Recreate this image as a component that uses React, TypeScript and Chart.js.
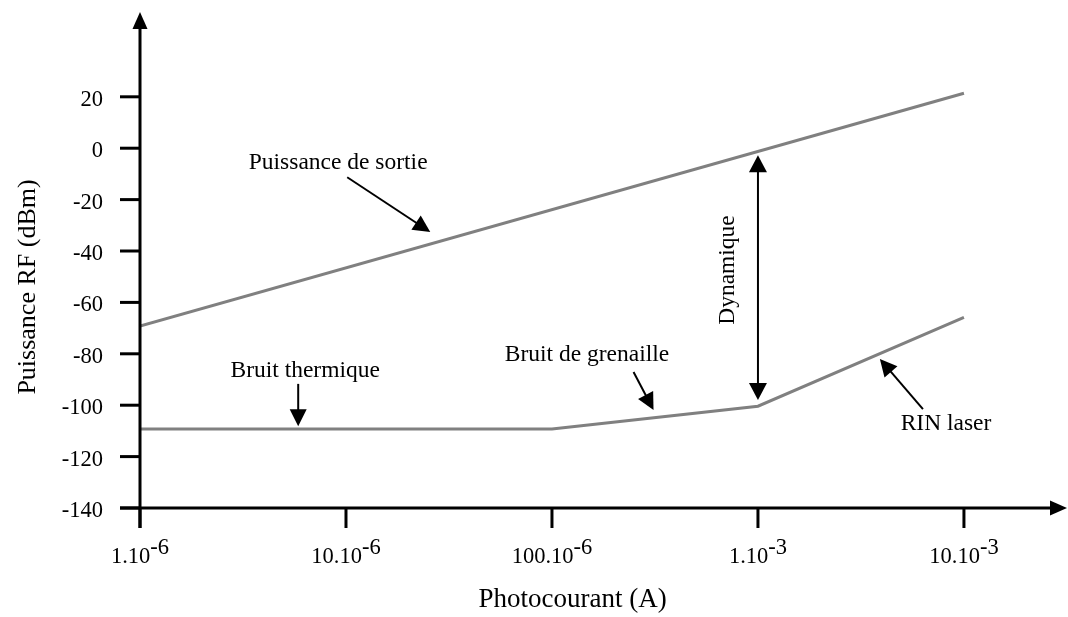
import React, { useEffect, useRef } from "react";
import { Chart, registerables } from "chart.js";

Chart.register(...registerables);

// ---- Data ----
const outputCurrents = [1e-6, 1e-2];
const outputPower = [-69.2, 21.4];
const noiseCurrents = [1e-6, 1e-4, 1e-3, 1e-2];
const noisePower = [-109.3, -109.3, -100.4, -65.8];

const xTickValues = [1e-6, 1e-5, 1e-4, 1e-3, 1e-2];
const xTickMantissas = ["1.10", "10.10", "100.10", "1.10", "10.10"];
const xTickExponents = ["-6", "-6", "-6", "-3", "-3"];
const yTickValues = [20, 0, -20, -40, -60, -80, -100, -120, -140];

const xTitle = "Photocourant (A)";
const yTitle = "Puissance RF (dBm)";

const FONT = '"Liberation Serif", "Times New Roman", serif';

function drawArrowHead(ctx: CanvasRenderingContext2D, fx: number, fy: number, tx: number, ty: number, len: number, half: number) {
  const a = Math.atan2(ty - fy, tx - fx);
  const bx = tx - Math.cos(a) * len;
  const by = ty - Math.sin(a) * len;
  ctx.beginPath();
  ctx.moveTo(tx, ty);
  ctx.lineTo(bx + Math.sin(a) * half, by - Math.cos(a) * half);
  ctx.lineTo(bx - Math.sin(a) * half, by + Math.cos(a) * half);
  ctx.closePath();
  ctx.fill();
}

function drawArrow(ctx: CanvasRenderingContext2D, fx: number, fy: number, tx: number, ty: number) {
  const a = Math.atan2(ty - fy, tx - fx);
  const len = 17;
  ctx.beginPath();
  ctx.moveTo(fx, fy);
  ctx.lineTo(tx - Math.cos(a) * (len - 2), ty - Math.sin(a) * (len - 2));
  ctx.stroke();
  drawArrowHead(ctx, fx, fy, tx, ty, len, 8.5);
}

const axesPlugin = {
  id: "customAxes",
  afterDatasetsDraw(chart: any) {
    const ctx: CanvasRenderingContext2D = chart.ctx;
    const xs = chart.scales.x;
    const ys = chart.scales.y;
    const area = chart.chartArea;
    const x0 = xs.getPixelForValue(xTickValues[0]);
    const y0 = ys.getPixelForValue(yTickValues[yTickValues.length - 1]);
    ctx.save();
    ctx.strokeStyle = "#000";
    ctx.fillStyle = "#000";
    ctx.lineWidth = 3;
    ctx.lineCap = "butt";
    // y axis
    ctx.beginPath();
    ctx.moveTo(x0, y0 + 20);
    ctx.lineTo(x0, area.top + 14);
    ctx.stroke();
    drawArrowHead(ctx, x0, y0, x0, area.top, 17, 7.5);
    // x axis
    ctx.beginPath();
    ctx.moveTo(x0 - 20, y0);
    ctx.lineTo(area.right - 14, y0);
    ctx.stroke();
    drawArrowHead(ctx, x0, y0, area.right - 1, y0, 17, 7.5);
    // y ticks
    ctx.font = `22.5px ${FONT}`;
    ctx.textAlign = "right";
    ctx.textBaseline = "middle";
    yTickValues.forEach((v) => {
      const py = ys.getPixelForValue(v);
      ctx.beginPath();
      ctx.moveTo(x0 - 20, py);
      ctx.lineTo(x0, py);
      ctx.stroke();
      ctx.fillText(String(v), x0 - 37, py + 3);
    });
    // x ticks
    xTickValues.forEach((v, i) => {
      const px = xs.getPixelForValue(v);
      ctx.beginPath();
      ctx.moveTo(px, y0);
      ctx.lineTo(px, y0 + 20);
      ctx.stroke();
      ctx.font = `22.5px ${FONT}`;
      const m = xTickMantissas[i];
      const e = xTickExponents[i];
      const mw = ctx.measureText(m).width;
      const ew = ctx.measureText(e).width;
      const start = px - (mw + ew) / 2;
      ctx.textAlign = "left";
      ctx.textBaseline = "alphabetic";
      ctx.fillText(m, start, y0 + 55);
      ctx.fillText(e, start + mw, y0 + 46);
    });
    // titles
    ctx.font = `27px ${FONT}`;
    ctx.textAlign = "center";
    ctx.textBaseline = "middle";
    ctx.fillText(xTitle, xs.getPixelForValue(10 ** -3.9), y0 + 92);
    ctx.save();
    ctx.translate(28, ys.getPixelForValue(-54));
    ctx.rotate(-Math.PI / 2);
    ctx.font = `26px ${FONT}`;
    ctx.fillText(yTitle, 0, 0);
    ctx.restore();
    ctx.restore();
  },
  afterDraw(chart: any) {
    const ctx: CanvasRenderingContext2D = chart.ctx;
    const xs = chart.scales.x;
    const ys = chart.scales.y;
    const X = (e: number) => xs.getPixelForValue(10 ** e);
    const Y = (v: number) => ys.getPixelForValue(v);
    ctx.save();
    ctx.fillStyle = "#000";
    ctx.strokeStyle = "#000";
    ctx.lineWidth = 2;
    ctx.font = `23.5px ${FONT}`;
    ctx.textAlign = "center";
    ctx.textBaseline = "middle";

    ctx.fillText("Puissance de sortie", X(-5.038), Y(-5.8));
    drawArrow(ctx, X(-4.994), Y(-11.3), X(-4.591), Y(-32.6));

    ctx.fillText("Bruit thermique", X(-5.198), Y(-86.7));
    drawArrow(ctx, X(-5.232), Y(-91.7), X(-5.232), Y(-108.2));

    ctx.fillText("Bruit de grenaille", X(-3.83), Y(-80.5));
    drawArrow(ctx, X(-3.604), Y(-87.1), X(-3.507), Y(-101.9));

    ctx.fillText("RIN laser", X(-2.087), Y(-107.3));
    drawArrow(ctx, X(-2.199), Y(-101.5), X(-2.408), Y(-82.0));

    // Dynamique double arrow
    const dx = X(-3);
    const topY = Y(-2.7);
    const botY = Y(-98);
    ctx.beginPath();
    ctx.moveTo(dx, topY + 15);
    ctx.lineTo(dx, botY - 15);
    ctx.stroke();
    drawArrowHead(ctx, dx, botY, dx, topY, 17, 9);
    drawArrowHead(ctx, dx, topY, dx, botY, 17, 9);
    ctx.save();
    ctx.translate(X(-3.147), Y(-47.4));
    ctx.rotate(-Math.PI / 2);
    ctx.fillText("Dynamique", 0, 0);
    ctx.restore();
    ctx.restore();
  },
};

export default function App() {
  const canvasRef = useRef<HTMLCanvasElement | null>(null);
  useEffect(() => {
    document.body.style.margin = "0";
    const canvas = canvasRef.current;
    if (!canvas) return;
    const chart = new Chart(canvas, {
      type: "scatter",
      data: {
        datasets: [
          {
            label: "Puissance de sortie",
            data: outputCurrents.map((x, i) => ({ x, y: outputPower[i] })),
            showLine: true,
            borderColor: "#808080",
            borderWidth: 3,
            pointRadius: 0,
            borderCapStyle: "butt",
          },
          {
            label: "Bruit",
            data: noiseCurrents.map((x, i) => ({ x, y: noisePower[i] })),
            showLine: true,
            borderColor: "#808080",
            borderWidth: 3,
            pointRadius: 0,
            borderCapStyle: "butt",
          },
        ],
      },
      options: {
        animation: false,
        responsive: false,
        devicePixelRatio: 1,
        layout: { padding: { left: 140, right: 0, top: 12, bottom: 109 } },
        plugins: { legend: { display: false }, tooltip: { enabled: false } },
        scales: {
          x: { type: "logarithmic", min: 1e-6, max: 0.032, display: false },
          y: { type: "linear", min: -140, max: 53, display: false },
        },
      },
      plugins: [axesPlugin],
    });
    return () => chart.destroy();
  }, []);
  return (
    <div style={{ width: 1068, height: 617, background: "#fff" }}>
      <canvas ref={canvasRef} width={1068} height={617} style={{ display: "block" }} />
    </div>
  );
}
